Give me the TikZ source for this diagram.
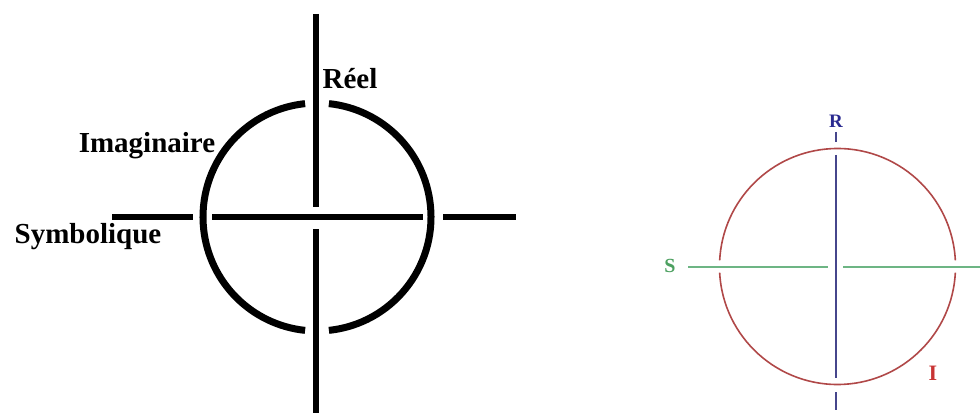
\documentclass[tikz,border=0pt]{standalone}
\usepackage{fontspec}
\setmainfont{Liberation Serif}
\definecolor{rblue}{HTML}{46468C}
\definecolor{rbluetext}{HTML}{2A2A90}
\definecolor{sgreen}{HTML}{6DB584}
\definecolor{sgreentext}{HTML}{4CA060}
\definecolor{ired}{HTML}{B04848}
\definecolor{iredtext}{HTML}{C83434}
\tikzset{
  bigline/.style={line width=6pt, black},
  bigring/.style={line width=7pt, black},
  biglabel/.style={font=\fontsize{29}{29}\selectfont\bfseries, inner sep=0pt},
  smalllabel/.style={inner sep=0pt}
}
\begin{document}
\begin{tikzpicture}[x=1pt,y=1pt]
\useasboundingbox (0,0) rectangle (980,413);
% ---------- left figure ----------
\coordinate (C) at (317,196);
\coordinate (vt) at (316,399);
\coordinate (vu) at (316,206);
\coordinate (vl) at (316,184);
\coordinate (vb) at (316,0);
\coordinate (hl1) at (112,196);
\coordinate (hl2) at (193,196);
\coordinate (hm1) at (212,196);
\coordinate (hm2) at (423,196);
\coordinate (hr1) at (443,196);
\coordinate (hr2) at (516,196);
\draw[bigline] (vt) -- (vu);
\draw[bigline] (vl) -- (vb);
\draw[bigline] (hl1) -- (hl2);
\draw[bigline] (hm1) -- (hm2);
\draw[bigline] (hr1) -- (hr2);
\draw[bigring] ([shift={(96:114)}]C) arc[start angle=96, end angle=264, radius=114];
\draw[bigring] ([shift={(276:114)}]C) arc[start angle=276, end angle=444, radius=114];
\node[biglabel] (reel) at (350,334) {Réel};
\node[biglabel] (imag) at (147,267) {Imaginaire};
\node[biglabel] (symb) at (88,176) {Symbolique};
% ---------- right figure ----------
\coordinate (C2) at (837.5,146.5);
\coordinate (bt1) at (836,281);
\coordinate (bt2) at (836,271);
\coordinate (bm1) at (836,258);
\coordinate (bm2) at (836,35);
\coordinate (bb1) at (836,21);
\coordinate (bb2) at (836,3);
\coordinate (gl1) at (688,146.3);
\coordinate (gl2) at (828,146.3);
\coordinate (gr1) at (843,146.3);
\coordinate (gr2) at (985,146.3);
\draw[rblue, line width=2.2pt] (bt1) -- (bt2);
\draw[rblue, line width=2.2pt] (bm1) -- (bm2);
\draw[rblue, line width=2.2pt] (bb1) -- (bb2);
\draw[sgreen, line width=2.2pt] (gl1) -- (gl2);
\draw[sgreen, line width=2.2pt] (gr1) -- (gr2);
\draw[ired, line width=1.6pt] ([shift={(3:118)}]C2) arc[start angle=3, end angle=177, radius=118];
\draw[ired, line width=1.6pt] ([shift={(183:118)}]C2) arc[start angle=183, end angle=357, radius=118];
\node[smalllabel, text=rbluetext, font=\fontsize{19}{19}\selectfont\bfseries] (R) at (836,292) {R};
\node[smalllabel, text=sgreentext, font=\fontsize{20}{20}\selectfont\bfseries] (S) at (670,147) {S};
\node[smalllabel, text=iredtext, font=\fontsize{22}{22}\selectfont\bfseries] (I) at (933,40) {I};
\end{tikzpicture}
\end{document}
